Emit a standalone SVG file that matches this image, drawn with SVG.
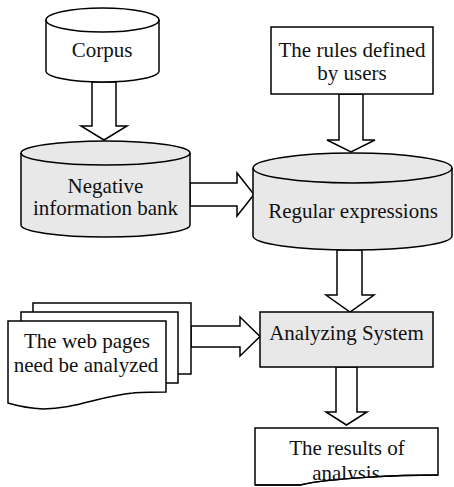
<svg xmlns="http://www.w3.org/2000/svg" width="454" height="487" viewBox="0 0 454 487">
<style>
.s{stroke:#000;stroke-width:1.5;stroke-linejoin:miter}
.w{fill:#fff}
.g{fill:#e8e8e8}
.t{font-family:"Liberation Serif","Times New Roman",serif;font-size:21px;fill:#111;text-anchor:middle}
</style>
<defs>
<clipPath id="resClip"><path d="M255,428 H438 V475 C400,475 330,478 300,485 L255,485 Z"/></clipPath>
</defs>
<rect width="454" height="487" fill="#fff"/>
<g id="connectors" class="s w">
<path d="M92,82 V126 H81 L104,140 L127,126 H116 V82 Z"/>
<path d="M190,183 H237 V173 L254,194.5 L237,216 V206 H190 Z"/>
<path d="M339,94 V140 H327 L351,152 L375,140 H363 V94 Z"/>
<path d="M337,250 V295 H326 L350,312 L374,295 H362 V250 Z"/>
<path d="M191,326 H240 V317 L260,336.5 L240,356 V347 H191 Z"/>
<path d="M336,367 V412 H326 L346.5,425 L367,412 H357 V367 Z"/>
</g>
<g id="corpus">
<path class="s w" d="M46,20 A56.5,12 0 0 1 159,20 V71 A56.5,11 0 0 1 46,71 Z"/>
<path class="s" fill="none" d="M46,20 A56.5,12 0 0 0 159,20"/>
<text class="t" x="102" y="57">Corpus</text>
</g>
<g id="negative-bank">
<path class="s g" d="M21,153 A84.5,12 0 0 1 190,153 V225 A84.5,12 0 0 1 21,225 Z"/>
<path class="s" fill="none" d="M21,153 A84.5,12 0 0 0 190,153"/>
<text class="t" x="105.5" y="193">Negative</text>
<text class="t" x="105.5" y="215">information bank</text>
</g>
<g id="rules">
<rect class="s w" x="271" y="27" width="162" height="67"/>
<text class="t" x="352" y="57">The rules defined</text>
<text class="t" x="352" y="80">by users</text>
</g>
<g id="regex">
<path class="s g" d="M253,168 A99.5,15 0 0 1 452,168 V236 A99.5,14 0 0 1 253,236 Z"/>
<path class="s" fill="none" d="M253,168 A99.5,15 0 0 0 452,168"/>
<text class="t" x="353" y="218">Regular expressions</text>
</g>
<g id="web-pages">
<rect class="s w" x="33" y="303" width="158" height="71"/>
<rect class="s w" x="21" y="312" width="157" height="71"/>
<path class="s w" d="M8,321 H166 V392 C150,392 140,392 133,393 C100,396 75,409 43,409 C25,408 15,405 8,403 Z"/>
<text class="t" x="87" y="348">The web pages</text>
<text class="t" x="86" y="372">need be analyzed</text>
</g>
<g id="analyzing">
<rect class="s g" x="260" y="312" width="173" height="55"/>
<text class="t" x="346.5" y="340">Analyzing System</text>
</g>
<g id="results">
<path class="s w" d="M255,428 H438 V475 C400,475 330,478 300,485 L255,485 Z"/>
<g clip-path="url(#resClip)">
<text class="t" x="347" y="455">The results of</text>
<text class="t" x="346" y="480">analysis</text>
</g>
<path class="s" fill="none" d="M438,475 C400,475 330,478 300,485 L255,485"/>
</g>
</svg>
